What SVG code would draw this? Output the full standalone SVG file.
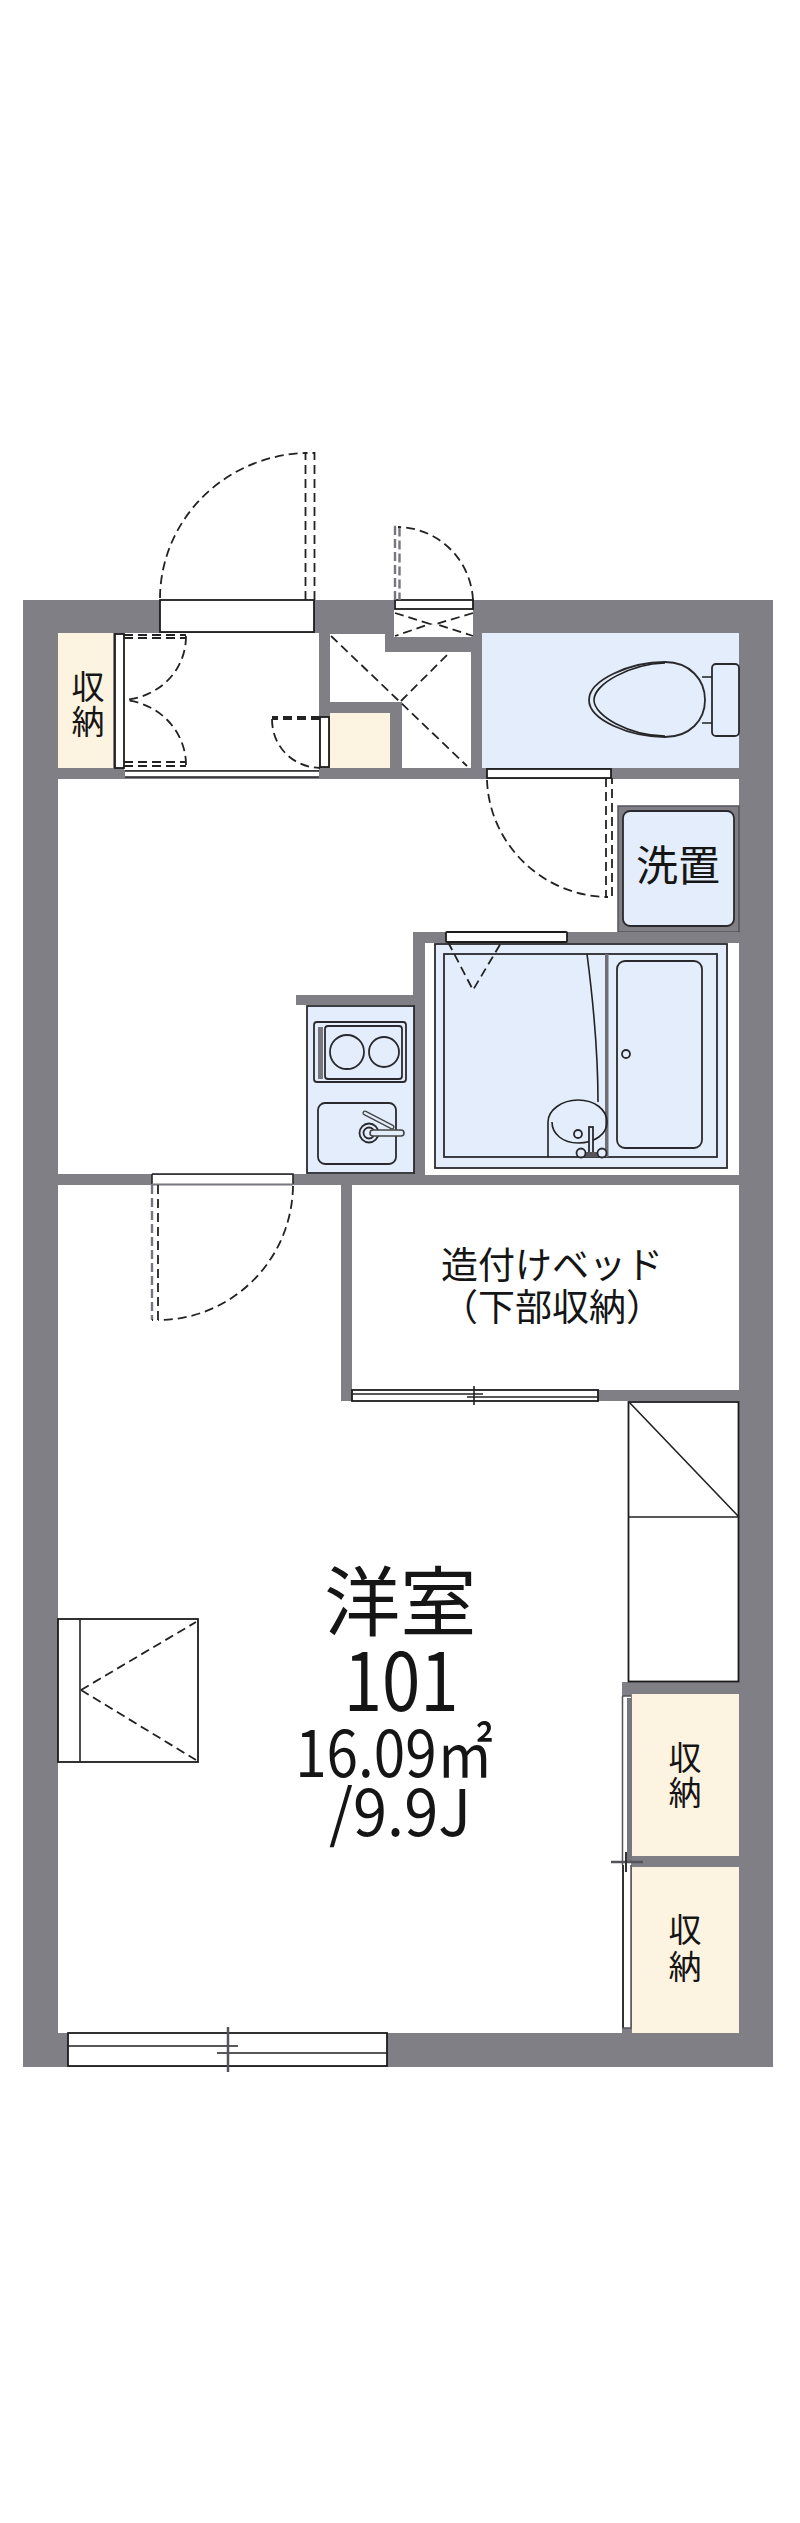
<svg xmlns="http://www.w3.org/2000/svg" width="800" height="2523" viewBox="0 0 800 2523">
<style>
.w{fill:#807f85}.f{fill:#fff}.b{fill:#e3edfb}.c{fill:#fdf3e1}
.l{fill:none;stroke:#222;stroke-width:1.6}
.s{fill:#fff;stroke:#1c1c1c;stroke-width:1.8}
.u{fill:#e3edfb;stroke:#2a2a2e;stroke-width:1.8}
.d{fill:none;stroke:#222;stroke-width:1.8;stroke-dasharray:9 5}
.g{fill:none;stroke:#77767c;stroke-width:2.4;stroke-dasharray:9 4}
text{font-family:"Noto Sans CJK JP","Noto Sans",sans-serif;fill:#151515;text-anchor:middle}
</style>
<rect width="800" height="2523" fill="#fff"/>
<g id="walls">
<rect class="w" x="23" y="600" width="750" height="1467"/>
</g>
<g id="rooms">
<path class="f" d="M124 633H319V770H124Z"/>
<path class="f" d="M330 634H385V652H471V768H402V702H330Z"/>
<path class="f" d="M394 600H473V637H394Z"/>
<path class="f" d="M58 779H739V1174H58Z"/>
<path class="f" d="M58 1185H341V1401H739V2033H58Z"/>
<path class="f" d="M352 1185H739V1390H352Z"/>
</g>
<g id="inner-walls">
<rect class="w" x="618" y="806" width="121" height="126" stroke="#55545a" stroke-width="1.500"/>
<rect class="w" x="413" y="932" width="326" height="11"/>
<rect class="w" x="413" y="932" width="12" height="243"/>
<rect class="w" x="296" y="995" width="118" height="10"/>
<rect class="f" x="425" y="943" width="314" height="232"/>
<rect class="w" x="622" y="1682" width="117" height="351"/>
</g>
<g id="closet-left">
<rect class="c" x="58" y="633" width="55" height="135"/>
<rect class="s" x="115" y="634" width="9" height="134"/>
<text font-size="33"><tspan x="88" y="699">収</tspan><tspan x="88" y="734">納</tspan></text>
</g>
<g id="entrance">
<rect class="s" x="160" y="600" width="154" height="32"/>
<path class="d" d="M160 598A150 146 0 0 1 306 453"/>
<path class="d" d="M305.500 600V453H314.500V600"/>
<path class="d" d="M124 635H186M124 638H186"/>
<path class="d" d="M186 636C186 670 160 697 124 700"/>
<path class="d" d="M124 762H186M124 766H186"/>
<path class="d" d="M186 765C186 732 160 703 124 700"/>
<rect class="f" x="125" y="771" width="194" height="6"/>
<path class="l" d="M125 771H319M125 777H319"/>
</g>
<g id="closet-small">
<rect class="c" x="330" y="713" width="60" height="55"/>
<rect class="s" x="320" y="717" width="9" height="50"/>
<path class="d" d="M320 717H272M320 719H272"/>
<path class="d" d="M272 719C272 746 292 767 320 768"/>
</g>
<g id="pipe-space">
<path class="d" d="M331 636L467 766M401 701L450 652"/>
<rect class="s" x="395" y="600" width="78" height="9"/>
<path class="g" d="M395 600V527H399.500V600"/>
<path class="d" d="M473 600C471 561 440 528 398 527"/>
<path class="d" d="M395 613L430 624L395 636M473 613L436 624L473 636"/>
</g>
<g id="toilet">
<rect class="b" x="482" y="633" width="257" height="135"/>
<rect class="u" x="712" y="664" width="27" height="72" rx="4"/>
<path class="l" d="M702 677H712M702 723H712"/>
<path class="u" d="M589 700C589 680 630 662 665 662C690 662 705 680 705 700C705 720 690 737 665 737C630 737 589 720 589 700Z"/>
<path class="l" d="M594 700C594 684 630 664 665 663M594 700C594 716 630 736 665 736"/>
<rect class="s" x="487" y="769" width="124" height="9"/>
<path class="d" d="M606 778V897H612V778"/>
<path class="d" d="M487 780C489 842 540 895 606 897"/>
</g>
<g id="washer">
<rect class="u" x="623" y="811" width="111" height="115" rx="7"/>
<text x="678" y="881" font-size="42">洗置</text>
</g>
<g id="bathroom">
<rect class="u" x="435" y="944" width="292" height="224"/>
<rect class="u" x="444" y="954" width="273" height="203"/>
<rect fill="#6f6e74" x="605" y="954" width="3.500" height="203"/>
<rect class="u" x="617" y="961" width="85" height="187" rx="8"/>
<circle class="u" cx="626" cy="1054" r="4"/>
<path class="l" d="M587 954C593 1000 598 1050 598 1102"/>
<path class="l" d="M548 1157V1122C548 1110 562 1100 578 1100C595 1100 607 1110 607 1122C607 1134 595 1143 578 1143C563 1143 552 1134 552 1122"/>
<circle class="u" cx="578" cy="1134" r="4"/>
<rect class="u" x="589" y="1127" width="4" height="26"/>
<rect fill="#57565c" x="581" y="1152" width="21" height="5"/>
<circle class="u" cx="581" cy="1153" r="4.500"/>
<circle class="u" cx="602" cy="1153" r="4.500"/>
<rect class="s" x="446" y="932" width="121" height="10" rx="1"/>
<path class="d" d="M448 942L473 990L501 943"/>
</g>
<g id="kitchen">
<rect class="u" x="307" y="1006" width="107" height="167"/>
<rect class="u" x="314" y="1022" width="92" height="60" rx="3"/>
<rect class="u" x="325" y="1026" width="77" height="53" rx="3"/>
<rect fill="#77767c" x="318" y="1027" width="5" height="52"/>
<circle class="u" cx="347" cy="1052" r="17"/>
<circle class="u" cx="384" cy="1052" r="15"/>
<rect class="u" x="318" y="1103" width="78" height="61" rx="7"/>
<path d="M365 1113L392 1127" stroke="#444" stroke-width="5" stroke-linecap="round"/>
<path d="M365 1113L392 1127" stroke="#e3edfb" stroke-width="2.500" stroke-linecap="round"/>
<circle class="u" cx="369" cy="1133" r="9.500"/>
<circle class="u" cx="369" cy="1133" r="5.500"/>
<rect x="370" y="1130" width="34" height="6" rx="3" fill="#e3edfb" stroke="#444" stroke-width="1.600"/>
</g>
<g id="room-door">
<rect class="f" x="152" y="1175" width="141" height="9"/>
<path class="l" d="M152 1174H293V1184M152 1174V1184"/>
<path d="M152 1184.500H293" stroke="#77767c" stroke-width="2"/>
<path class="d" d="M293 1186C292 1260 232 1320 158 1320"/>
<path class="g" d="M152 1185V1320"/>
<path class="d" d="M158 1185V1320H152"/>
</g>
<g id="bed">
<text font-size="37"><tspan x="552" y="1279">造付けベッド</tspan><tspan x="552" y="1321">（下部収納）</tspan></text>
<rect class="s" x="352" y="1390" width="246" height="11"/>
<path class="l" d="M352 1394H483M467 1397H598M474 1386V1405"/>
</g>
<g id="storage-column">
<rect class="s" x="628.500" y="1402" width="110" height="279.500" stroke-width="1.600"/>
<path class="l" d="M629 1517H739M629 1402L739 1517" stroke-width="2"/>
</g>
<g id="closets-right">
<rect class="c" x="632" y="1694" width="107" height="162"/>
<rect class="c" x="632" y="1867" width="107" height="166"/>
<text font-size="33"><tspan x="685" y="1770">収</tspan><tspan x="685" y="1805">納</tspan></text>
<text font-size="33"><tspan x="685" y="1942">収</tspan><tspan x="685" y="1979">納</tspan></text>
<rect class="f" x="622.500" y="1696" width="8.500" height="332" rx="1"/>
<rect fill="#77767c" x="627" y="1698" width="5" height="165"/>
<rect fill="#333" x="622" y="1865" width="2" height="163"/>
<path d="M622.500 1696V1865M631 1865V2028H622.500M622.500 1696H631" fill="none" stroke="#55545a" stroke-width="1.500"/>
<path d="M611 1862H643" stroke="#55545a" stroke-width="2.500"/>
<path d="M626 1852V1872" stroke="#333" stroke-width="2"/>
</g>
<g id="closet-window">
<rect class="s" x="58" y="1619" width="140" height="143"/>
<path class="l" d="M80 1619V1762"/>
<path class="d" d="M81 1690L196 1622M81 1690L196 1760"/>
</g>
<g id="room-label">
<text>
<tspan x="402" y="1630" font-size="76">洋室</tspan>
<tspan x="403" y="1711" font-size="80" textLength="115" lengthAdjust="spacingAndGlyphs">101</tspan>
<tspan x="396" y="1777" font-size="64" textLength="198" lengthAdjust="spacingAndGlyphs">16.09㎡</tspan>
<tspan x="400" y="1836" font-size="64" textLength="142" lengthAdjust="spacingAndGlyphs">/9.9J</tspan>
</text>
</g>
<g id="window">
<rect class="s" x="68" y="2033" width="319" height="33"/>
<path class="l" d="M68 2046H238M217 2053H387"/>
<path d="M228 2027V2072" stroke="#55545a" stroke-width="2.500"/>
</g>
</svg>
